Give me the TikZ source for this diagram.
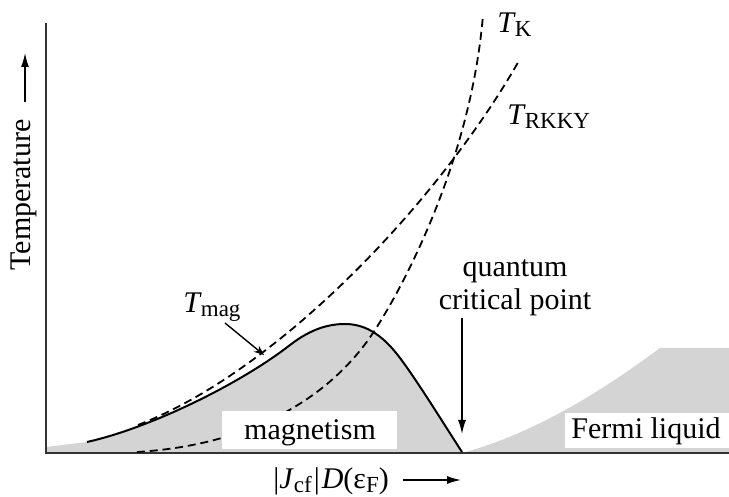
\documentclass[tikz,border=0pt]{standalone}
\usepackage{fontspec}
\setmainfont{Liberation Serif}
\usetikzlibrary{arrows.meta}
\definecolor{regiongray}{RGB}{212,212,212}
\newcommand{\Tsub}[1]{\textit{T}\kern-0.5pt\raisebox{-2pt}{\fontsize{11.5}{12}\selectfont #1}}
\begin{document}
\begin{tikzpicture}[x=0.5pt,y=-0.5pt,
  axisline/.style={line width=0.6pt,black!80},
  solidcurve/.style={line width=1pt,black},
  dashcurve/.style={line width=0.9pt,black,dash pattern=on 4pt off 2.4pt},
  lbl/.style={inner sep=0pt,font=\fontsize{15}{18}\selectfont},
  whitebox/.style={fill=white,draw=none},
  pointer/.style={line width=0.7pt,-{Latex[length=7pt,width=4pt]}},
  smallpointer/.style={line width=0.7pt,-{Stealth[length=5pt,width=4pt]}}]
\useasboundingbox (0,0) rectangle (729,497);
% gray regions
\fill[regiongray] (46,453) -- (46,447) -- (87,442)
  .. controls (150,428) and (240,384) .. (290,345)
  .. controls (312,328) and (330,324) .. (345,324)
  .. controls (368,324) and (385,338) .. (400,358)
  .. controls (418,382) and (440,418) .. (462,452) -- (462,453) -- cycle;
\fill[regiongray] (462,453) .. controls (540,432) and (610,385) .. (660,348) -- (729,348) -- (729,453) -- cycle;
% axes
\coordinate (origin) at (46,453);
\coordinate (ytop) at (46,23);
\coordinate (xend) at (729,453);
\draw[axisline] (ytop) -- (origin) -- (xend);
% curves
\draw[solidcurve] (87,442)
  .. controls (150,428) and (240,384) .. (290,345)
  .. controls (312,328) and (330,324) .. (345,324)
  .. controls (368,324) and (385,338) .. (400,358)
  .. controls (418,382) and (440,418) .. (462,452);
\draw[dashcurve] (138,425) .. controls (280,370) and (440,200) .. (520,59);
\draw[dashcurve] (137,452) .. controls (250,445) and (329,399) .. (373,333)
  .. controls (395,300) and (470,170) .. (483,15);
% white label boxes
\fill[whitebox] (222,411) rectangle (397,449);
\fill[whitebox] (565,413) rectangle (729,448);
% labels
\node[lbl,anchor=base west] (tk) at (497,33) {\Tsub{K}};
\node[lbl,anchor=base west] (trkky) at (507,125) {\Tsub{RKKY}};
\node[lbl,anchor=base west] (tmag) at (183,313) {\Tsub{mag}};
\node[lbl,anchor=base] (mag) at (310,440) {magnetism};
\node[lbl,anchor=base] (fermi) at (646,438) {Fermi liquid};
\node[lbl,anchor=base] (qcp1) at (515,277) {quantum};
\node[lbl,anchor=base] (qcp2) at (515,310) {critical point};
\node[lbl,rotate=90] (temp) at (24,195) {Temperature};
\node[lbl,anchor=base west] (xlab) at (273,488) {\textbar\textit{J}\raisebox{-2pt}{\fontsize{11.5}{12}\selectfont cf}\kern1pt\textbar\kern1pt\textit{D}(ε\raisebox{-2pt}{\fontsize{11.5}{12}\selectfont F})};
% arrows
\coordinate (tmagA) at (225,323);
\coordinate (tmagB) at (264,355);
\draw[smallpointer] (tmagA) -- (tmagB);
\coordinate (qcpA) at (462,318);
\coordinate (qcpB) at (462,434);
\draw[pointer] (qcpA) -- (qcpB);
\coordinate (tempA) at (25,102);
\coordinate (tempB) at (25,53);
\draw[pointer] (tempA) -- (tempB);
\coordinate (xA) at (403,480);
\coordinate (xB) at (461,480);
\draw[pointer] (xA) -- (xB);
\end{tikzpicture}
\end{document}
